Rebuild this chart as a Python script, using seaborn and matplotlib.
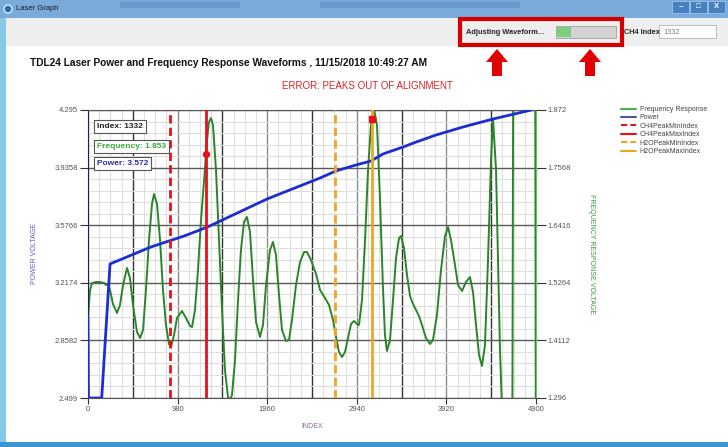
import numpy as np
import matplotlib
matplotlib.use("Agg")
import matplotlib.pyplot as plt
import seaborn as sns
from matplotlib.patches import Rectangle, Polygon
from matplotlib.lines import Line2D

sns.set_style("white")
plt.rcParams['font.family'] = ['Liberation Sans', 'DejaVu Sans']

# Frequency response waveform (right axis)
freq_index = [0, 22, 44, 88, 131, 175, 197, 219, 241, 273, 317, 350, 383, 427, 459, 492, 536, 569, 602, 634,
              667, 700, 722, 755, 788, 820, 853, 886, 908, 941, 973, 1028, 1072, 1116, 1138, 1170, 1203, 1236,
              1269, 1302, 1323, 1345, 1367, 1400, 1433, 1466, 1498, 1531, 1553, 1575, 1608, 1641, 1673, 1706,
              1739, 1772, 1805, 1838, 1881, 1914, 1947, 1991, 2023, 2056, 2089, 2122, 2166, 2198, 2231, 2275,
              2319, 2363, 2395, 2439, 2494, 2538, 2592, 2636, 2680, 2713, 2745, 2778, 2811, 2844, 2877, 2909,
              2942, 2964, 2997, 3030, 3063, 3095, 3128, 3161, 3194, 3227, 3248, 3270, 3303, 3336, 3369, 3402,
              3423, 3456, 3489, 3522, 3555, 3588, 3620, 3653, 3697, 3741, 3773, 3817, 3861, 3905, 3938, 3970,
              4014, 4047, 4091, 4134, 4178, 4211, 4244, 4277, 4309, 4342, 4375, 4408, 4430, 4463, 4484, 4506,
              4528, 4561, 4638, 4654, 4889, 4900]
freq_value = [1.456, 1.512, 1.526, 1.528, 1.528, 1.526, 1.522, 1.524, 1.512, 1.484, 1.466, 1.482, 1.522, 1.556,
              1.536, 1.482, 1.428, 1.416, 1.432, 1.512, 1.612, 1.684, 1.704, 1.684, 1.612, 1.512, 1.442, 1.404,
              1.398, 1.422, 1.456, 1.470, 1.456, 1.440, 1.438, 1.472, 1.552, 1.652, 1.730, 1.812, 1.848, 1.856,
              1.842, 1.752, 1.612, 1.472, 1.352, 1.298, 1.292, 1.302, 1.372, 1.492, 1.592, 1.648, 1.658, 1.628,
              1.532, 1.448, 1.418, 1.442, 1.522, 1.592, 1.608, 1.582, 1.502, 1.432, 1.410, 1.412, 1.452, 1.522,
              1.568, 1.588, 1.588, 1.572, 1.544, 1.512, 1.496, 1.482, 1.452, 1.418, 1.388, 1.378, 1.388, 1.416,
              1.444, 1.450, 1.444, 1.442, 1.492, 1.612, 1.752, 1.842, 1.874, 1.842, 1.692, 1.512, 1.422, 1.390,
              1.412, 1.492, 1.576, 1.616, 1.620, 1.596, 1.542, 1.500, 1.484, 1.472, 1.460, 1.442, 1.416, 1.404,
              1.412, 1.462, 1.552, 1.620, 1.638, 1.612, 1.562, 1.522, 1.510, 1.528, 1.538, 1.508, 1.442, 1.382,
              1.360, 1.402, 1.572, 1.772, 1.854, 1.752, 1.572, 1.392, 1.272, 1.100, 1.000, 2.200, 2.200, 1.000]

# Laser power (left axis)
power_index = [0, 5, 150, 241, 689, 1050, 1225, 1332, 1958, 2538, 2713, 2931, 3095, 3227, 3445, 3588, 3806,
               4102, 4430, 4850]
power_value = [3.004, 2.499, 2.499, 3.335, 3.441, 3.509, 3.547, 3.572, 3.740, 3.871, 3.915, 3.952, 3.977,
               4.021, 4.064, 4.095, 4.139, 4.189, 4.239, 4.295]

ch4_min_index, ch4_max_index = 897, 1291
h2o_min_index, h2o_max_index = 2705, 3106
ch4_peak_freq = 1.784
h2o_peak_freq = 1.854
cursor_index, cursor_freq, cursor_power = 1332, 1.853, 3.572

power_ticks = [2.499, 2.8582, 3.2174, 3.5766, 3.9358, 4.295]
freq_ticks = [1.296, 1.4112, 1.5264, 1.6416, 1.7568, 1.872]
index_ticks = [0, 980, 1960, 2940, 3920, 4900]

W, H = 728, 447
fig = plt.figure(figsize=(W / 100, H / 100), dpi=100)

# window frame, drawn in pixel coordinates
bg = fig.add_axes([0, 0, 1, 1], zorder=0)
bg.set_xlim(0, W)
bg.set_ylim(H, 0)
bg.axis('off')
bg.add_patch(Rectangle((0, 0), W, H, fc='white', ec='none'))
bg.add_patch(Rectangle((0, 0), W, 18, fc='#7aaad9', ec='none'))
bg.add_patch(Rectangle((120, 2), 120, 6, fc='#5d8fc4', ec='none', alpha=0.6))
bg.add_patch(Rectangle((320, 2), 200, 6, fc='#5d8fc4', ec='none', alpha=0.6))
bg.add_patch(Rectangle((0, 18), 6, H - 18, fc='#86c8ea', ec='none'))
bg.add_patch(Rectangle((0, H - 5), W, 5, fc='#3b95d4', ec='none'))
bg.add_patch(Rectangle((6, 18), W - 6, 28, fc='#eeeeee', ec='none'))
bg.add_patch(plt.Circle((8, 9), 4, fc='#2d6fb5', ec='white', lw=0.8))
bg.text(16, 9, 'Laser Graph', fontsize=5.5, color='#1a1a2e', va='center')
for bx, sym in [(672, '–'), (690, '□'), (708, 'X')]:
    bg.add_patch(Rectangle((bx, 1), 17, 12, fc='#4a80c0', ec='#9cc3ea', lw=0.6))
    bg.text(bx + 8.5, 7, sym, fontsize=5.5, color='white', ha='center', va='center', fontweight='bold')

bg.add_patch(Rectangle((460, 19), 162, 26, fc='none', ec='#d40000', lw=3))
bg.text(466, 32, 'Adjusting Waveform...', fontsize=5.3, fontweight='bold', va='center')
bg.add_patch(Rectangle((556, 26), 60, 12, fc='#d4d4d4', ec='#a0a0a0', lw=0.6))
bg.add_patch(Rectangle((557, 27), 14, 10, fc='#7dce7d', ec='none'))
bg.text(624, 32, 'CH4 Index', fontsize=5.3, fontweight='bold', va='center')
bg.add_patch(Rectangle((659, 25), 57, 13, fc='white', ec='#b4b4b4', lw=0.6))
bg.text(663, 32, '1332', fontsize=5.3, color='#808080', va='center')
for xc in [497, 590]:
    bg.add_patch(Polygon([(xc - 5, 76), (xc + 5, 76), (xc + 5, 62), (xc + 11, 62), (xc, 49),
                          (xc - 11, 62), (xc - 5, 62)], closed=True, fc='#e00000', ec='none'))

bg.text(30, 63, 'TDL24 Laser Power and Frequency Response Waveforms , 11/15/2018 10:49:27 AM',
        fontsize=7.3, fontweight='bold', va='center', color='#111111')
bg.text(367, 86, 'ERROR: PEAKS OUT OF ALIGNMENT', fontsize=7.0, color='#e02020', ha='center', va='center')

# chart
ax = fig.add_axes([88 / W, 1 - 398 / H, 448 / W, 288 / H])
ax2 = ax.twinx()
ax2.set_zorder(1)
ax.set_zorder(2)
ax.patch.set_visible(False)
ax2.patch.set_visible(True)
ax2.patch.set_facecolor('white')

ax.set_xlim(0, 4900)
ax.set_ylim(2.499, 4.295)
ax2.set_ylim(1.296, 1.872)

for gx in np.arange(0, 4901, 122.5):
    k = round(gx / 122.5)
    if k % 8 == 0:
        c, lw = '#8a8a8a', 1.0
    elif k % 4 == 0:
        c, lw = '#333333', 1.0
    else:
        c, lw = '#dedede', 0.8
    ax2.axvline(gx, color=c, lw=lw, zorder=0.5)
for j, gy in enumerate(np.linspace(1.296, 1.872, 26)):
    ax2.axhline(gy, color='#5a5a5a' if j % 5 == 0 else '#dedede', lw=1.0 if j % 5 == 0 else 0.8, zorder=0.5)

sns.lineplot(x=freq_index, y=freq_value, ax=ax2, color='#2a852a', lw=1.4, estimator=None, zorder=3)
sns.lineplot(x=power_index, y=power_value, ax=ax, color='#1c2ed0', lw=2, estimator=None, zorder=4)

ax.axvline(ch4_min_index, color='#e8101a', lw=2, ls=(0, (3, 1.5)), zorder=5)
ax.axvline(ch4_max_index, color='#e8101a', lw=2, zorder=5)
ax.axvline(h2o_min_index, color='#f2a424', lw=2, ls=(0, (3, 1.5)), zorder=5)
ax.axvline(h2o_max_index, color='#f2a424', lw=2, zorder=5)
ax.scatter([ch4_max_index], [ch4_peak_freq], transform=ax2.transData, s=18, color='#e8101a', zorder=6)
ax.scatter([h2o_max_index], [h2o_peak_freq], transform=ax2.transData, s=22, marker='s', color='#e8101a', zorder=6)

ax.set_xticks(index_ticks)
ax.set_xticklabels([str(t) for t in index_ticks])
ax.set_yticks(power_ticks)
ax.set_yticklabels(['2.499', '2.8582', '3.2174', '3.5766', '3.9358', '4.295'])
ax2.set_yticks(freq_ticks)
ax2.set_yticklabels(['1.296', '1.4112', '1.5264', '1.6416', '1.7568', '1.872'])
ax.tick_params(axis='y', left=True, direction='out', length=6, width=0.8, color='#333333',
               labelsize=5.5, labelcolor='#555555', pad=1.5)
ax.tick_params(axis='x', bottom=True, direction='out', length=4, width=0.8, color='#333333',
               labelsize=5.5, labelcolor='#555555', pad=2)
ax2.tick_params(axis='y', right=True, direction='out', length=7, width=0.8, color='#333333',
                labelsize=5.5, labelcolor='#555555', pad=1.5)

for s in ax2.spines.values():
    s.set_visible(False)
ax.spines['left'].set_color('#1e1e5a')
ax.spines['right'].set_color('#6cbf6c')
ax.spines['top'].set_color('#555555')
ax.spines['bottom'].set_color('#555555')

ax.set_xlabel('INDEX', color='#8a6a9a', fontsize=5)
ax.xaxis.set_label_coords(0.5, -0.087)
ax.set_ylabel('POWER VOLTAGE', color='#6a5acd', fontsize=5)
ax.yaxis.set_label_coords(-0.112, 0.5)
ax2.set_ylabel('FREQUENCY RESPONSE VOLTAGE', color='#3a9a3a', fontsize=5, rotation=270, va='center')
ax2.yaxis.set_label_coords(1.123, 0.5)

box = dict(boxstyle='square,pad=0.35', fc='white', ec='#555555', lw=0.8)
ax.text(0.02, 0.943, f'Index: {cursor_index}', transform=ax.transAxes, fontsize=6, fontweight='bold',
        color='#222222', va='center', bbox=box, zorder=10)
ax.text(0.02, 0.873, f'Frequency: {cursor_freq}', transform=ax.transAxes, fontsize=6, fontweight='bold',
        color='#3aaa3a', va='center', bbox=box, zorder=10)
ax.text(0.02, 0.814, f'Power: {cursor_power}', transform=ax.transAxes, fontsize=6, fontweight='bold',
        color='#2a2ab0', va='center', bbox=box, zorder=10)

handles = [Line2D([], [], color='#4caf50', lw=1.5),
           Line2D([], [], color='#4a5aa0', lw=1.5),
           Line2D([], [], color='#e8101a', lw=1.5, ls=(0, (3, 1.5))),
           Line2D([], [], color='#e8101a', lw=1.5),
           Line2D([], [], color='#f2a424', lw=1.5, ls=(0, (3, 1.5))),
           Line2D([], [], color='#f2a424', lw=1.5)]
labels = ['Frequency Response', 'Power', 'CH4PeakMinIndex', 'CH4PeakMaxIndex', 'H2OPeakMinIndex',
          'H2OPeakMaxIndex']
fig.legend(handles, labels, loc='upper left', bbox_to_anchor=(621 / W, 1 - 106 / H), frameon=False,
           fontsize=5, handlelength=2.2, labelspacing=0.2, handletextpad=0.5, labelcolor='#444444',
           borderaxespad=0, borderpad=0)

fig.savefig('out.png', dpi=100)
